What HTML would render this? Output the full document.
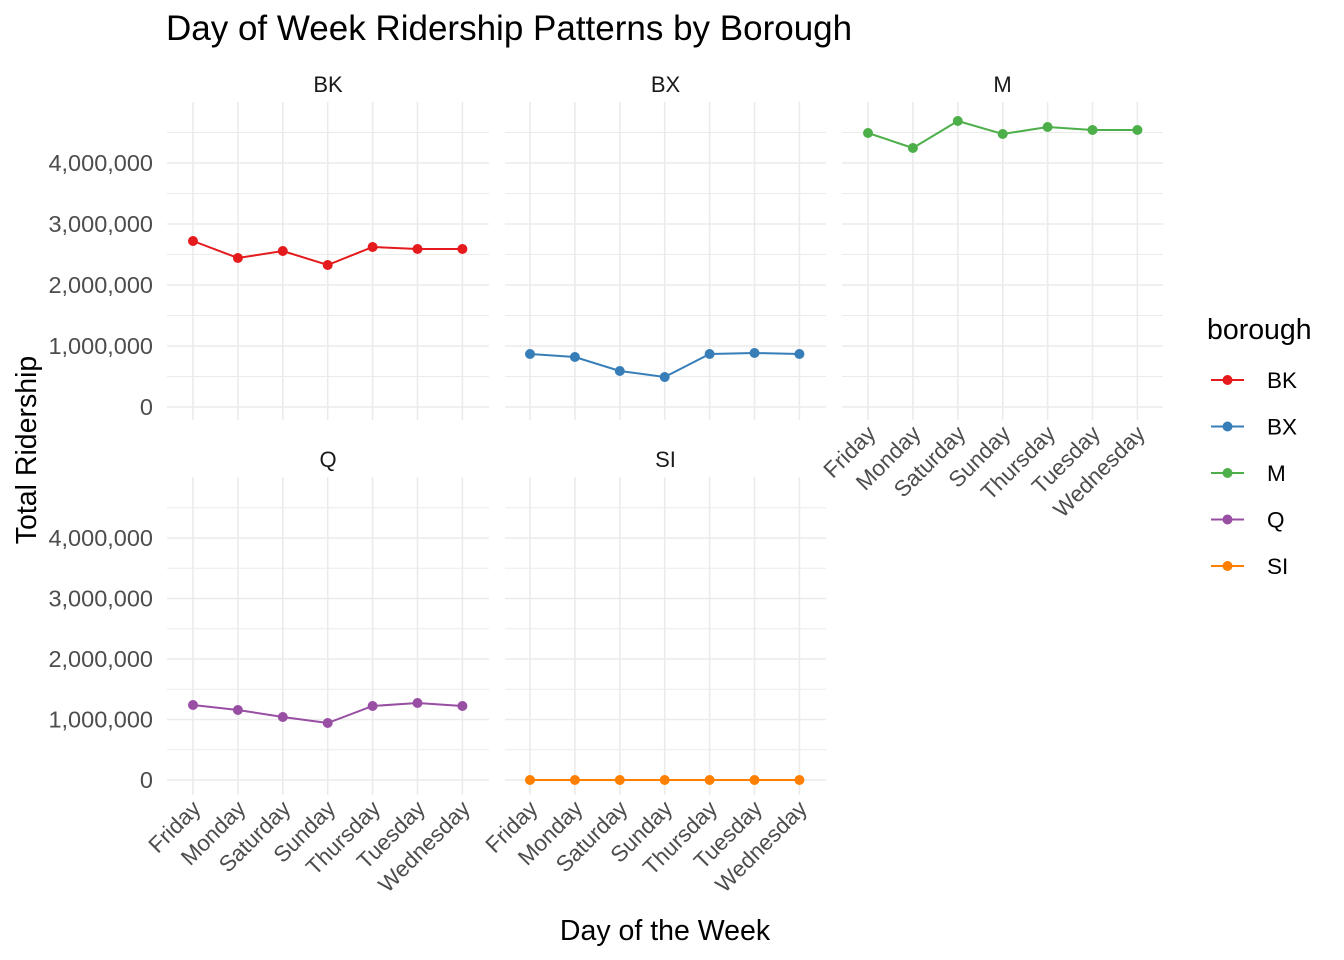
<!DOCTYPE html>
<html><head><meta charset="utf-8"><style>
html,body{margin:0;padding:0;background:#fff;}
svg{display:block;font-family:"Liberation Sans",Arial,sans-serif;}
</style></head><body>
<svg id="s" width="1344" height="960" viewBox="0 0 1344 960" xmlns="http://www.w3.org/2000/svg">
<text x="166" y="40" font-size="35" fill="#000">Day of Week Ridership Patterns by Borough</text>
<text x="665" y="940" font-size="28.5" text-anchor="middle">Day of the Week</text>
<text transform="translate(36,450) rotate(-90)" font-size="28.5" text-anchor="middle">Total Ridership</text>
<g id="g"></g>
<text x="1207" y="339" font-size="28.5">borough</text>
</svg>
<script>
const g=document.getElementById('g');let h='';
const days=["Friday","Monday","Saturday","Sunday","Thursday","Tuesday","Wednesday"];
const panels=[
 {n:"BK",x0:167,x1:489,xs:193,top:102,bot:420,zero:407,c:"#E41A1C",ys:[241,258,251,265,247,249,249],lab:false},
 {n:"BX",x0:505,x1:826,xs:530,top:102,bot:420,zero:407,c:"#377EB8",ys:[354,357,371,377,354,353,354],lab:false},
 {n:"M",x0:842,x1:1163,xs:868,top:102,bot:420,zero:407,c:"#4DAF4A",ys:[133,148,121,134,127,130,130],lab:true},
 {n:"Q",x0:167,x1:489,xs:193,top:477,bot:795,zero:780,c:"#984EA3",ys:[705,710,717,723,706,703,706],lab:true},
 {n:"SI",x0:505,x1:826,xs:530,top:477,bot:795,zero:780,c:"#FF7F00",ys:[780,780,780,780,780,780,780],lab:true}];
const lt=["0","1,000,000","2,000,000","3,000,000","4,000,000"];
panels.forEach((p,pi)=>{
 const step=(p.zero-(pi<3?163:538))/4;
 for(let k=0;k<=9;k++){const y=p.zero-k*step/2;if(y<p.top-2)break;
  h+=`<line x1="${p.x0}" x2="${p.x1}" y1="${y}" y2="${y}" stroke="#EBEBEB" stroke-width="${k%2?1:1.6}"/>`;}
 for(let i=0;i<7;i++){const x=p.xs+i*44.9;h+=`<line x1="${x}" x2="${x}" y1="${p.top}" y2="${p.bot}" stroke="#EBEBEB" stroke-width="1.6"/>`;}
 h+=`<text x="${(p.x0+p.x1)/2}" y="${p.top-10}" font-size="22" text-anchor="middle" fill="#1a1a1a">${p.n}</text>`;
 if(p.x0==167){for(let k=0;k<5;k++)h+=`<text x="153" y="${p.zero-k*step+8}" font-size="23.5" text-anchor="end" fill="#4d4d4d">${lt[k]}</text>`;}
 const pts=p.ys.map((y,i)=>[p.xs+i*44.9,y]);
 h+=`<polyline points="${pts.map(a=>a.join(',')).join(' ')}" fill="none" stroke="${p.c}" stroke-width="2"/>`;
 pts.forEach(a=>h+=`<circle cx="${a[0]}" cy="${a[1]}" r="5" fill="${p.c}"/>`);
 if(p.lab){days.forEach((d,i)=>{const x=p.xs+i*44.9+9,y=p.bot+15;
  h+=`<text transform="translate(${x},${y}) rotate(-45)" font-size="22.5" text-anchor="end" fill="#4d4d4d">${d}</text>`;});}
});
const lg=[["BK","#E41A1C"],["BX","#377EB8"],["M","#4DAF4A"],["Q","#984EA3"],["SI","#FF7F00"]];
lg.forEach((l,i)=>{const y=380+i*46.5;
 h+=`<line x1="1211" x2="1244" y1="${y}" y2="${y}" stroke="${l[1]}" stroke-width="2"/><circle cx="1227.5" cy="${y}" r="5" fill="${l[1]}"/><text x="1267" y="${y+8}" font-size="22.5">${l[0]}</text>`;});
g.innerHTML=h;
</script>
</body></html>
